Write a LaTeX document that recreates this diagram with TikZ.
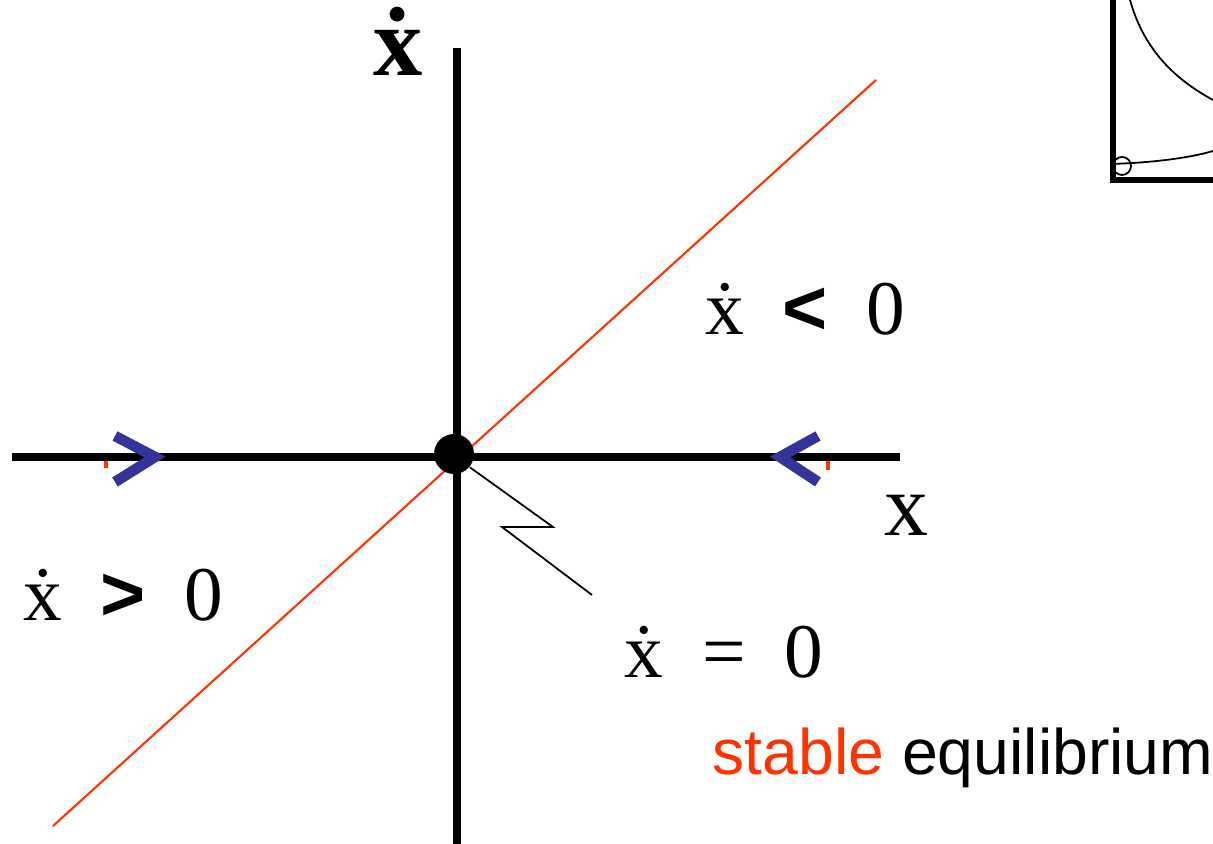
\documentclass[tikz,border=0pt]{standalone}
\usepackage{fontspec}
\setmainfont{Liberation Serif}
\setsansfont{Liberation Sans}
\usepackage{xcolor}
\definecolor{flowblue}{RGB}{51,51,153}
\definecolor{nullred}{RGB}{255,51,0}

\begin{document}
\begin{tikzpicture}[
    axis/.style={line width=2.3pt},
    lbl/.style={inner sep=0pt, font=\fontsize{22}{24}\selectfont},
    flow/.style={flowblue, line width=3pt, line join=miter}
  ]
        \useasboundingbox (0,0) rectangle (12.13,8.44);

        % Axes
        \draw[axis] (4.57,0) -- (4.57,7.96); % vertical axis
        \draw[axis] (0.12,3.87) -- (9.00,3.87); % horizontal axis

        % Red nullcline through the origin
        \draw[nullred, line width=0.6pt] (0.53,0.18) -- (8.76,7.64);

        % Fixed point
        \node[circle, fill=black, minimum size=0.40cm, inner sep=0pt] (fix) at (4.54,3.90) {};

        % Axis labels
        \node[inner sep=0pt, font=\fontsize{28}{30}\selectfont\bfseries] (xdot) at (3.98,8.03) {\.{x}};
        \node[inner sep=0pt, font=\fontsize{25}{28}\selectfont] (xax) at (9.06,3.29) {x};

        % Region labels
        \node[lbl] (neg) at (8.05,5.35) {\.{x}\ \ {\sffamily\bfseries <}\ \ 0};
        \node[lbl] (pos) at (1.23,2.49) {\.{x}\ \ {\sffamily\bfseries >}\ \ 0};
        \node[lbl] (zero) at (7.24,1.92) {\.{x}\ \ =\ \ 0};

        % Pointer to the fixed point
        \coordinate (k1) at (5.53,3.17);
        \coordinate (k2) at (5.02,3.17);
        \coordinate (tip) at (5.92,2.49);
        \draw[line width=0.5pt] (fix.-40) -- (k1) -- (k2) -- (tip);

        % Flow directions
        \draw[flow] (1.15,4.08) -- (1.55,3.87) -- (1.15,3.62);
        \draw[flow] (8.18,4.08) -- (7.80,3.87) -- (8.18,3.62);
        \draw[nullred, line width=1.2pt] (1.06,3.83) -- (1.06,3.76);
        \draw[nullred, line width=1.2pt] (8.28,3.83) -- (8.28,3.74);

        % Caption
        \node[anchor=base west, inner sep=0pt, font=\sffamily\fontsize{18.3}{20}\selectfont] (cap) at (7.12,0.69) {\textcolor{nullred}{stable} equilibrium};

        % Inset in the corner
        \draw[line width=1.7pt] (11.13,8.44) -- (11.13,6.61);
        \draw[line width=1.7pt] (11.10,6.64) -- (12.13,6.64);
        \draw[line width=0.5pt] (11.30,8.44) .. controls (11.45,7.90) and (11.80,7.62) .. (12.13,7.44);
        \draw[line width=0.5pt] (11.10,6.80) .. controls (11.50,6.81) and (11.90,6.86) .. (12.13,6.93);
        \node[circle, draw, line width=0.5pt, minimum size=0.18cm, inner sep=0pt] (eq) at (11.22,6.78) {};
\end{tikzpicture}
\end{document}
